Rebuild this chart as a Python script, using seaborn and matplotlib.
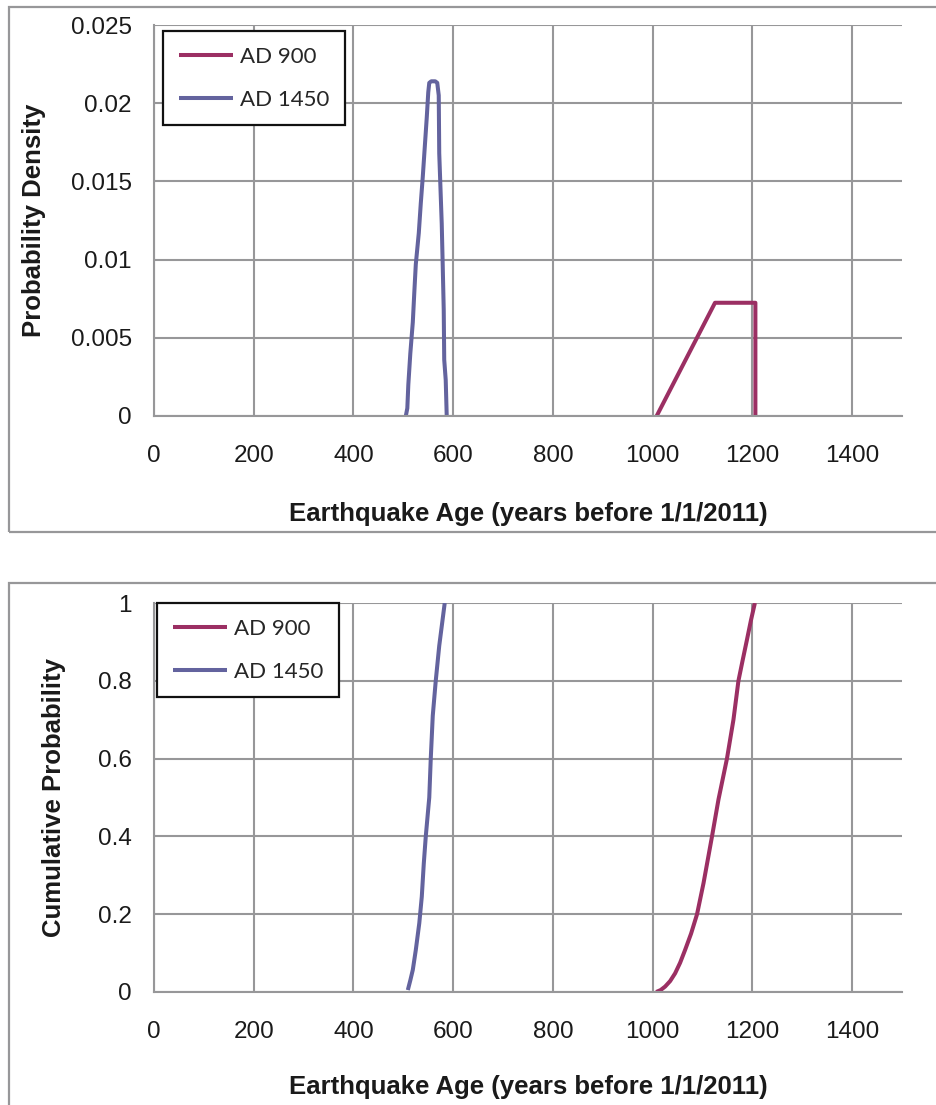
import matplotlib
matplotlib.use("Agg")
import matplotlib.pyplot as plt
from matplotlib.patches import Rectangle
import seaborn as sns
import pandas as pd

# Probability density of earthquake age (years before 1/1/2011)
ad900_pdf_age = [1008, 1125, 1206, 1206]
ad900_pdf = [0.0, 0.00724, 0.00724, 0.0]

ad1450_pdf_age = [505, 508, 510, 514, 519, 522, 525, 531, 535, 539, 543, 547,
                  550, 552, 556, 564, 568, 571, 572, 577, 579, 581, 582, 585, 587]
ad1450_pdf = [0.0, 0.0005, 0.002, 0.004, 0.006, 0.0079, 0.0097, 0.0117, 0.0136,
              0.0153, 0.0172, 0.0191, 0.0207, 0.0213, 0.0214, 0.0214, 0.0213,
              0.0205, 0.0168, 0.0123, 0.0096, 0.0068, 0.0036, 0.0023, 0.0]

# Cumulative probability
ad900_cdf_age = [1007, 1016, 1025, 1035, 1045, 1055, 1065, 1077, 1089, 1102,
                 1119, 1132, 1149, 1162, 1172, 1180, 1189, 1197, 1205]
ad900_cdf = [0.0, 0.005, 0.014, 0.028, 0.048, 0.075, 0.108, 0.15, 0.20, 0.28,
             0.40, 0.495, 0.60, 0.70, 0.80, 0.85, 0.905, 0.955, 1.0]

ad1450_cdf_age = [509, 514, 519, 525, 532, 537, 541, 545, 552, 555, 559, 565,
                  572, 579, 583]
ad1450_cdf = [0.005, 0.03, 0.057, 0.108, 0.177, 0.245, 0.33, 0.40, 0.50, 0.60,
              0.71, 0.80, 0.89, 0.96, 1.0]

series_names = ["AD 900", "AD 1450"]
series_colors = ["#9B2F63", "#63639E"]
x_ticks = [0, 200, 400, 600, 800, 1000, 1200, 1400]
pdf_ticks = [0, 0.005, 0.01, 0.015, 0.02, 0.025]
pdf_tick_labels = ["0", "0.005", "0.01", "0.015", "0.02", "0.025"]
cdf_ticks = [0, 0.2, 0.4, 0.6, 0.8, 1.0]
cdf_tick_labels = ["0", "0.2", "0.4", "0.6", "0.8", "1"]
x_label = "Earthquake Age (years before 1/1/2011)"

sns.set_style("white")
plt.rcParams["font.family"] = ["Liberation Sans", "DejaVu Sans"]

GRID = "#979799"
TEXT = "#1a1a1a"
W, H = 936, 1105
fig = plt.figure(figsize=(W / 100, H / 100), dpi=100)


def fx(px):
    return px / W


def fy(py):
    return 1 - py / H


# chart frames
for (x0, y0, x1, y1) in [(9, 7, 945, 532), (9, 583, 945, 1115)]:
    fig.add_artist(Rectangle((fx(x0), fy(y1)), fx(x1 - x0), (y1 - y0) / H,
                             transform=fig.transFigure, fill=False,
                             edgecolor=GRID, linewidth=1.6, clip_on=False))

ax_top = fig.add_axes([fx(154), fy(416), fx(902 - 154), (416 - 25) / H])
ax_bot = fig.add_axes([fx(154), fy(992), fx(902 - 154), (992 - 603) / H])


def style_axes(ax, yticks, ylabels, ylabel, ylabel_right, xlabel_pad):
    ax.set_xlim(0, 1500)
    ax.set_xticks(x_ticks)
    ax.set_xticklabels([str(v) for v in x_ticks])
    ax.set_yticks(yticks)
    ax.set_yticklabels(ylabels)
    ax.set_ylim(yticks[0], yticks[-1])
    ax.grid(True, color=GRID, linewidth=1.5)
    ax.set_axisbelow(True)
    for side in ["top", "right"]:
        ax.spines[side].set_visible(False)
    for side in ["left", "bottom"]:
        ax.spines[side].set_color(GRID)
        ax.spines[side].set_linewidth(1.5)
    ax.tick_params(axis="both", length=6, width=1.5, color=GRID,
                   labelsize=17.5, labelcolor=TEXT)
    ax.tick_params(axis="y", pad=10)
    ax.tick_params(axis="x", pad=15)
    ax.set_xlabel(x_label, fontsize=18.5, fontweight="bold",
                  labelpad=xlabel_pad, color=TEXT)
    ax.set_ylabel(ylabel, fontsize=18.5, fontweight="bold", color=TEXT)
    ax.yaxis.set_label_coords((ylabel_right - 154) / (902 - 154), 0.5)


def draw(ax, ages, values):
    for (a, v), name, col in zip(zip(ages, values), series_names, series_colors):
        df = pd.DataFrame({"age": a, "value": v})
        sns.lineplot(data=df, x="age", y="value", ax=ax, sort=False,
                     estimator=None, color=col, linewidth=2.9, label=name,
                     solid_joinstyle="round", solid_capstyle="butt")


draw(ax_top, [ad900_pdf_age, ad1450_pdf_age], [ad900_pdf, ad1450_pdf])
draw(ax_bot, [ad900_cdf_age, ad1450_cdf_age], [ad900_cdf, ad1450_cdf])

style_axes(ax_top, pdf_ticks, pdf_tick_labels, "Probability Density", 46, 25)
style_axes(ax_bot, cdf_ticks, cdf_tick_labels, "Cumulative Probability", 66, 23)


def legend(ax, x0, y0):
    leg = ax.legend(loc="upper left", bbox_to_anchor=(fx(x0), fy(y0)),
                    bbox_transform=fig.transFigure, frameon=True,
                    fancybox=False, framealpha=1, edgecolor="#111111",
                    prop={"family": "Lato", "size": 16},
                    handlelength=2.45, handletextpad=0.33, labelspacing=1.05,
                    borderpad=0.7, borderaxespad=0)
    leg.get_frame().set_linewidth(1.6)
    for line in leg.get_lines():
        line.set_linewidth(2.9)


legend(ax_top, 163, 31)
legend(ax_bot, 157, 603)

fig.savefig("out.png", dpi=100)
